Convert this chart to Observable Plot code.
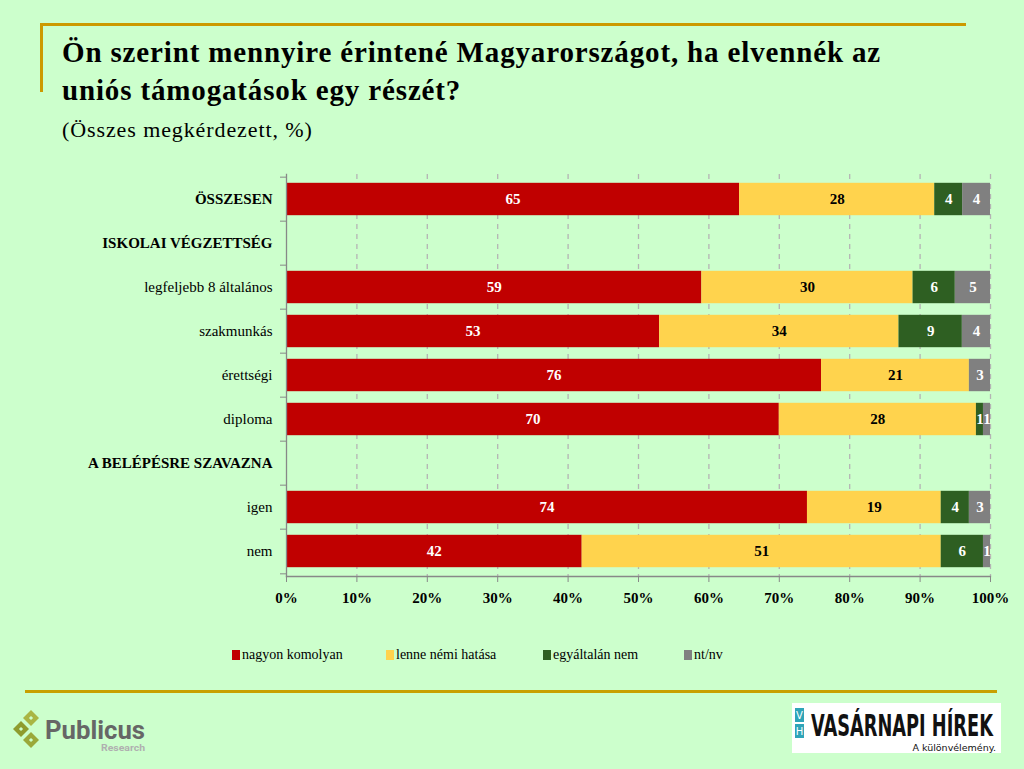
<!DOCTYPE html>
<html>
<head>
<meta charset="utf-8">
<script src="https://cdn.jsdelivr.net/npm/d3@7"></script>
<script src="https://cdn.jsdelivr.net/npm/@observablehq/plot@0.6"></script>
<style>
  html, body { margin: 0; padding: 0; }
  body { width: 1024px; height: 769px; background: #CCFFCC; position: relative; overflow: hidden;
         font-family: "Liberation Serif", "DejaVu Serif", serif; color: #000; }
  .abs { position: absolute; }
  .serif { font-family: "Liberation Serif", "DejaVu Serif", serif; }
  #topline { left: 40px; top: 23px; width: 926px; height: 3px; background: #CC9900; }
  #vline { left: 40px; top: 23px; width: 3px; height: 69px; background: #CC9900; }
  #botline { left: 25px; top: 690px; width: 972px; height: 3px; background: #C8A000; }
  #title { left: 62px; top: 33px; font-size: 29px; letter-spacing: 0.85px; font-weight: bold; line-height: 38px; white-space: nowrap; }
  #subtitle { left: 62px; top: 117px; font-size: 22px; letter-spacing: 0.9px; white-space: nowrap; }
  #chart { left: 0; top: 160px; }
  .leg { position: absolute; top: 647px; font-size: 14px; white-space: nowrap; }
  .leg span.sw { display: inline-block; width: 8px; height: 10px; margin-right: 2px; vertical-align: -1px; }
</style>
</head>
<body>
<div id="topline" class="abs"></div>
<div id="vline" class="abs"></div>
<div id="title" class="abs serif">Ön szerint mennyire érintené Magyarországot, ha elvennék az<br>uniós támogatások egy részét?</div>
<div id="subtitle" class="abs serif">(Összes megkérdezett, %)</div>
<div id="chart" class="abs"></div>
<div id="legend"></div>
<div id="botline" class="abs"></div>

<svg class="abs" style="left:10px;top:708px" width="140" height="50">
  <path d="M21 2 L29 10 L21 18 L13 10 Z" fill="#A9B544"/>
  <path d="M11 13 L19 21 L11 29 L3 21 Z" fill="#8E9C2E"/>
  <path d="M21 24 L29 32 L21 40 L13 32 Z" fill="#9AA83A"/>
  <g fill="#CCFFCC">
    <rect x="19.5" y="8.5" width="3" height="3" transform="rotate(45 21 10)"/>
    <rect x="9.5" y="19.5" width="3" height="3" transform="rotate(45 11 21)"/>
    <rect x="19.5" y="30.5" width="3" height="3" transform="rotate(45 21 32)"/>
  </g>
  <text x="35" y="31" font-family="Roboto, 'DejaVu Sans', sans-serif" font-weight="bold" font-size="26" fill="#666" textLength="100" lengthAdjust="spacingAndGlyphs">Publicus</text>
  <text x="91" y="43" font-family="Roboto, 'DejaVu Sans', sans-serif" font-weight="bold" font-size="9" fill="#B0B0B0" textLength="44" lengthAdjust="spacingAndGlyphs">Research</text>
</svg>

<svg class="abs" style="left:792px;top:703px" width="209" height="50">
  <rect x="0" y="0" width="209" height="50" fill="#fff"/>
  <rect x="3" y="5" width="9" height="14" fill="#2FA4B8"/>
  <rect x="3" y="21" width="9" height="14" fill="#2FA4B8"/>
  <text x="7.5" y="16" font-family="'DejaVu Sans', sans-serif" font-size="10" fill="#fff" text-anchor="middle">V</text>
  <text x="7.5" y="32" font-family="'DejaVu Sans', sans-serif" font-size="10" fill="#fff" text-anchor="middle">H</text>
  <g id="vhwrap" transform="translate(19,33)">
    <text id="vhtext" x="0" y="0" font-family="'Liberation Sans Narrow', 'DejaVu Sans Condensed', sans-serif" font-weight="bold" font-size="31" fill="#111">VASÁRNAPI HÍREK</text>
  </g>
  <text x="204" y="48" font-family="'Liberation Sans Narrow', 'DejaVu Sans', sans-serif" font-size="9.5" fill="#111" text-anchor="end">A különvélemény.</text>
</svg>

<script>
// ---- data ----
const categories = ["ÖSSZESEN", "ISKOLAI VÉGZETTSÉG", "legfeljebb 8 általános", "szakmunkás", "érettségi", "diploma", "A BELÉPÉSRE SZAVAZNA", "igen", "nem"];
const headerCategories = ["ÖSSZESEN", "ISKOLAI VÉGZETTSÉG", "A BELÉPÉSRE SZAVAZNA"];
const seriesNames = ["nagyon komolyan", "lenne némi hatása", "egyáltalán nem", "nt/nv"];
const nagyonKomolyan = [65, null, 59, 53, 76, 70, null, 74, 42];
const lenneNemiHatasa = [28, null, 30, 34, 21, 28, null, 19, 51];
const egyaltalanNem = [4, null, 6, 9, null, 1, null, 4, 6];
const ntnv = [4, null, 5, 4, 3, 1, null, 3, 1];
const xTicks = [0, 0.1, 0.2, 0.3, 0.4, 0.5, 0.6, 0.7, 0.8, 0.9, 1];

const seriesValues = [nagyonKomolyan, lenneNemiHatasa, egyaltalanNem, ntnv];
const colors = ["#C00000", "#FFD34D", "#2E5F22", "#808080"];
const labelColors = ["#fff", "#000", "#fff", "#fff"];

const data = [];
categories.forEach((cat, i) => {
  seriesNames.forEach((s, j) => {
    const v = seriesValues[j][i];
    if (v != null && v > 0) data.push({cat, series: s, value: v, labelColor: labelColors[j]});
  });
});

const W = 1024, H = 454, mT = 14, mB = 38, mL = 286, mR = 34;
const step = (H - mT - mB) / categories.length;
const axisGray = "#888";
const fontFam = "'Liberation Serif', 'DejaVu Serif', serif";

const chart = Plot.plot({
  width: W, height: H,
  marginTop: mT, marginBottom: mB, marginLeft: mL, marginRight: mR,
  style: {background: "transparent", fontFamily: fontFam, fontSize: "15px", color: "#000"},
  x: {domain: [0, 1], axis: null},
  y: {domain: categories, padding: 0, axis: null},
  color: {domain: seriesNames, range: colors},
  marks: [
    Plot.gridX(xTicks.filter(t => t > 0), {stroke: "#B4B4B4", strokeOpacity: 1, strokeWidth: 1.3, strokeDasharray: "5,5"}),
    Plot.barX(data, Plot.stackX({x: "value", y: "cat", fill: "series", offset: "normalize", insetTop: 5.8, insetBottom: 5.8})),
    Plot.text(data, Plot.stackX({x: "value", y: "cat", z: "series", offset: "normalize", text: d => String(d.value), fill: "labelColor", fontWeight: "bold", fontSize: 15})),
    Plot.axisX(xTicks, {tickFormat: d => Math.round(d * 100) + "%", tickSize: 6, tickPadding: 10, stroke: axisGray, fontWeight: "bold", fontSize: 15, label: null}),
    Plot.axisY(categories, {tickSize: 6, text: null, dy: -step / 2, stroke: axisGray, label: null}),
    Plot.axisY(categories.slice(-1), {tickSize: 6, text: null, dy: step / 2, stroke: axisGray, label: null}),
    Plot.frame({anchor: "left", stroke: axisGray, strokeWidth: 1.3}),
    Plot.frame({anchor: "bottom", stroke: axisGray, strokeWidth: 1.3}),
    Plot.text(categories.filter(c => !headerCategories.includes(c)), {y: d => d, frameAnchor: "left", textAnchor: "end", dx: -14, fontSize: 15}),
    Plot.text(headerCategories, {y: d => d, frameAnchor: "left", textAnchor: "end", dx: -14, fontSize: 15, fontWeight: "bold"})
  ]
});
document.getElementById("chart").appendChild(chart);

// legend
const legendLefts = [232, 386, 543, 684];
const legend = document.getElementById("legend");
seriesNames.forEach((s, j) => {
  const el = document.createElement("div");
  el.className = "leg serif";
  el.style.left = legendLefts[j] + "px";
  el.innerHTML = `<span class="sw" style="background:${colors[j]}"></span>${s}`;
  legend.appendChild(el);
});

// fit the newspaper logo text into its box
const vt = document.getElementById("vhtext");
const natural = vt.getComputedTextLength();
if (natural > 0) document.getElementById("vhwrap").setAttribute("transform", `translate(19,33) scale(${182 / natural},1)`);
</script>
</body>
</html>
